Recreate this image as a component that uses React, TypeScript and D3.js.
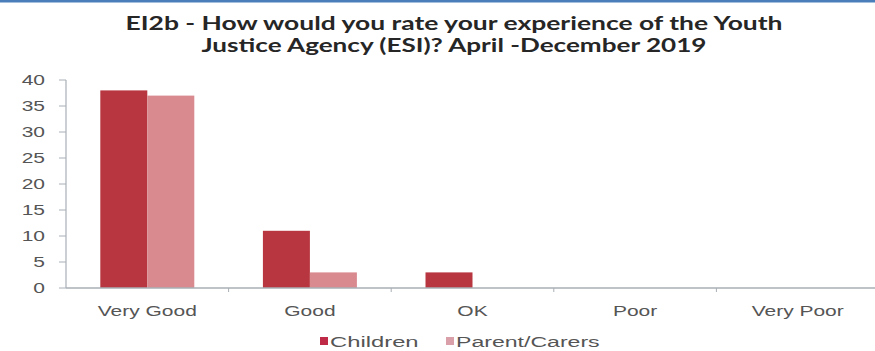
import React from "react";
import * as d3 from "d3";

const categories = ["Very Good", "Good", "OK", "Poor", "Very Poor"];
const seriesNames = ["Children", "Parent/Carers"];
const childrenValues = [38, 11, 3, 0, 0];
const parentValues = [37, 3, 0, 0, 0];
const yTicks = [0, 5, 10, 15, 20, 25, 30, 35, 40];
const titleLines = [
  "EI2b - How would you rate your experience of the Youth",
  "Justice Agency (ESI)? April -December 2019",
];

const W = 875;
const H = 351;
const colors = ["#b7363f", "#d98a8f"];
const legendColors = ["#bf2a47", "#d9a0a9"];
const textColor = "#555";
const axisColor = "#a9afb6";
const SX = 1.5;

export default function App() {
  const x0 = d3.scaleBand<string>().domain(categories).range([66, 879]).padding(0);
  const x1 = d3
    .scaleBand<string>()
    .domain(seriesNames)
    .range([0, x0.bandwidth()])
    .paddingInner(0)
    .paddingOuter(0.73);
  const y = d3.scaleLinear().domain([0, 40]).range([288, 80]);
  const values = [childrenValues, parentValues];

  const label = (
    txt: string,
    x: number,
    yy: number,
    anchor: string,
    key?: string,
    sx: number = SX
  ) => (
    <g key={key} transform={`translate(${x},${yy}) scale(${sx},1)`}>
      <text
        textAnchor={anchor as any}
        fontFamily="Liberation Sans, Arial, sans-serif"
        fontSize={14}
        fill={textColor}
      >
        {txt}
      </text>
    </g>
  );

  return (
    <svg
      width={W}
      height={H}
      style={{ position: "absolute", left: 0, top: 0, background: "#fff" }}
    >
      <rect x={0} y={0} width={W} height={H} fill="#fff" />
      <rect x={0} y={0} width={W} height={2.5} fill="#4a7ebb" />

      {titleLines.map((t, i) => (
        <text
          key={i}
          x={454}
          y={30 + i * 22}
          textAnchor="middle"
          fontFamily="Lato, Liberation Sans, sans-serif"
          fontWeight="bold"
          fontSize={18}
          fill="#262626"
          textLength={i === 0 ? 657 : 505}
          lengthAdjust="spacingAndGlyphs"
        >
          {t}
        </text>
      ))}

      {/* bars */}
      {categories.map((c) =>
        seriesNames.map((s, si) => {
          const v = values[si][categories.indexOf(c)];
          if (v <= 0) return null;
          return (
            <rect
              key={c + s}
              x={(x0(c) as number) + (x1(s) as number)}
              y={y(v)}
              width={x1.bandwidth()}
              height={y(0) - y(v)}
              fill={colors[si]}
            />
          );
        })
      )}

      {/* y axis */}
      <line x1={66} x2={66} y1={y(40)} y2={y(0)} stroke={axisColor} strokeWidth={1.2} />
      {yTicks.map((t) => (
        <g key={t}>
          <line x1={59} x2={66} y1={y(t)} y2={y(t)} stroke={axisColor} strokeWidth={1} />
          {label(String(t), 45, y(t) + 5, "end")}
        </g>
      ))}

      {/* x axis */}
      <line x1={66} x2={879} y1={y(0)} y2={y(0)} stroke={axisColor} strokeWidth={1.5} />
      {categories.map((c, i) => (
        <line
          key={"t" + i}
          x1={(x0(c) as number) + x0.bandwidth()}
          x2={(x0(c) as number) + x0.bandwidth()}
          y1={y(0)}
          y2={y(0) + 4}
          stroke={axisColor}
        />
      ))}
      {categories.map((c, i) =>
        label(c, (x0(c) as number) + x0.bandwidth() / 2, 316, "middle", "c" + i)
      )}

      {/* legend */}
      <rect x={320} y={337} width={8} height={8} fill={legendColors[0]} />
      {label(seriesNames[0], 330, 347, "start", "l0", 1.7)}
      <rect x={446} y={337} width={8} height={8} fill={legendColors[1]} />
      {label(seriesNames[1], 456, 347, "start", "l1", 1.65)}
    </svg>
  );
}
